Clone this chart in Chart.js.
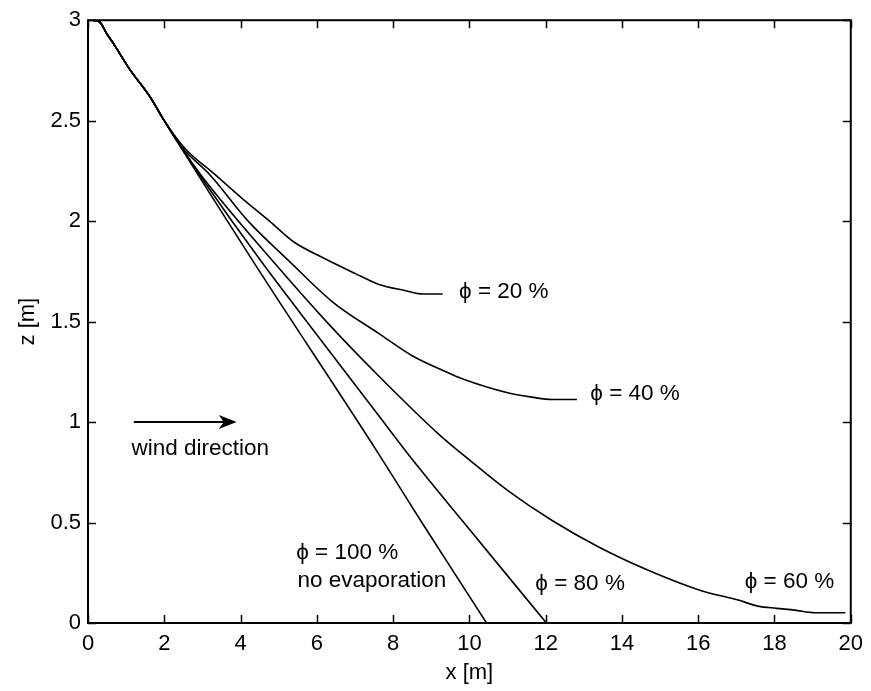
<!DOCTYPE html>
<html>
<head>
<meta charset="utf-8">
<script src="https://cdn.jsdelivr.net/npm/chart.js@4.4.1/dist/chart.umd.min.js"></script>
<style>
  html, body { margin: 0; padding: 0; background: #fff; }
  canvas { display: block; }
</style>
</head>
<body>
<canvas id="myChart" width="871" height="691"></canvas>
<script>
// tick values / labels
var xTicks = [0, 2, 4, 6, 8, 10, 12, 14, 16, 18, 20];
var yTicks = [0, 0.5, 1, 1.5, 2, 2.5, 3];
var yTickLabels = ["0", "0.5", "1", "1.5", "2", "2.5", "3"];

// trajectories, x [m] and z [m], one pair per humidity
var x100 = [0.14, 0.31, 0.5, 0.66, 1.1, 1.62, 2.0, 4.33, 7.6, 8.72, 10.45];
var z100 = [3.0, 2.99, 2.93, 2.886, 2.754, 2.62, 2.5, 1.8, 0.848, 0.51, 0];

var x80 = [0.14, 0.31, 0.5, 0.66, 1.1, 1.62, 2.0, 2.4, 3.0, 4.54, 6.1, 7.63, 8.5, 9.81, 12.02];
var z80 = [3.0, 2.99, 2.93, 2.886, 2.754, 2.62, 2.5, 2.38, 2.21, 1.8, 1.41, 1.03, 0.815, 0.51, 0];

var x60 = [0.14, 0.31, 0.5, 0.66, 1.1, 1.62, 2.0, 2.4, 3.0, 4.85, 6.3, 7.63, 9.2, 10.03, 11.0, 12.17, 13.39, 14.69, 16.04, 17.05, 17.57, 18.05, 18.53, 19.05, 19.86];
var z60 = [3.0, 2.99, 2.93, 2.886, 2.754, 2.62, 2.5, 2.38, 2.22, 1.8, 1.49, 1.228, 0.939, 0.807, 0.66, 0.51, 0.378, 0.262, 0.163, 0.114, 0.084, 0.073, 0.064, 0.051, 0.051];

var x40 = [0.14, 0.31, 0.5, 0.66, 1.1, 1.62, 2.0, 2.45, 3.2, 4.2, 5.28, 6.4, 7.63, 8.5, 9.46, 9.81, 11.03, 11.64, 12.17, 12.82];
var z40 = [3.0, 2.99, 2.93, 2.886, 2.754, 2.62, 2.5, 2.37, 2.23, 2.0, 1.8, 1.6, 1.44, 1.33, 1.244, 1.216, 1.145, 1.124, 1.112, 1.112];

var x20 = [0.14, 0.31, 0.5, 0.66, 1.1, 1.62, 2.0, 2.55, 3.28, 4.0, 4.76, 5.37, 6.24, 7.0, 7.63, 8.3, 8.77, 9.3];
var z20 = [3.0, 2.99, 2.93, 2.886, 2.754, 2.62, 2.5, 2.36, 2.24, 2.12, 2.0, 1.9, 1.81, 1.74, 1.685, 1.655, 1.637, 1.637];

function pts(xs, zs) {
  return xs.map(function (v, i) { return { x: v, y: zs[i] }; });
}

function line(label, xs, zs) {
  return {
    label: label,
    data: pts(xs, zs),
    showLine: true,
    borderColor: "#000",
    borderWidth: 1.6,
    pointRadius: 0,
    cubicInterpolationMode: "monotone",
    fill: false
  };
}

var font = "Liberation Sans, Arial, Helvetica, sans-serif";

// text notes inside the plot (anchor in data units, left/middle)
var notes = [
  { t: "\u03d5 = 20 %", x: 9.73, z: 1.649 },
  { t: "\u03d5 = 40 %", x: 13.17, z: 1.139 },
  { t: "\u03d5 = 60 %", x: 17.22, z: 0.204 },
  { t: "\u03d5 = 80 %", x: 11.73, z: 0.197 },
  { t: "\u03d5 = 100 %", x: 5.46, z: 0.347 },
  { t: "no evaporation", x: 5.49, z: 0.208 },
  { t: "wind direction", x: 1.14, z: 0.865 }
];

var framePlugin = {
  id: "frame",
  afterDraw: function (chart) {
    var c = chart.ctx, a = chart.chartArea;
    var xs = chart.scales.x, ys = chart.scales.y;
    c.save();
    c.strokeStyle = "#000";
    c.fillStyle = "#000";

    // inward ticks on all four sides
    c.lineWidth = 1.5;
    c.beginPath();
    xTicks.forEach(function (v) {
      var px = Math.round(xs.getPixelForValue(v)) + 0.5;
      c.moveTo(px, a.bottom); c.lineTo(px, a.bottom - 8);
      c.moveTo(px, a.top); c.lineTo(px, a.top + 8);
    });
    yTicks.forEach(function (v) {
      var py = Math.round(ys.getPixelForValue(v)) + 0.5;
      c.moveTo(a.left, py); c.lineTo(a.left + 8, py);
      c.moveTo(a.right, py); c.lineTo(a.right - 8, py);
    });
    c.stroke();

    // box
    c.lineWidth = 2;
    c.strokeRect(a.left, a.top, a.right - a.left, a.bottom - a.top);

    // wind arrow
    var ax0 = xs.getPixelForValue(1.2), ax1 = xs.getPixelForValue(3.9);
    var ay = ys.getPixelForValue(1.0);
    c.lineWidth = 2;
    c.beginPath();
    c.moveTo(ax0, ay); c.lineTo(ax1 - 10, ay);
    c.stroke();
    c.beginPath();
    c.moveTo(ax1, ay);
    c.lineTo(ax1 - 18, ay - 7);
    c.lineTo(ax1 - 13, ay);
    c.lineTo(ax1 - 18, ay + 7);
    c.closePath();
    c.fill();

    // notes
    c.font = "22.5px " + font;
    c.textAlign = "left";
    c.textBaseline = "middle";
    notes.forEach(function (n) {
      c.fillText(n.t, xs.getPixelForValue(n.x), ys.getPixelForValue(n.z));
    });
    c.restore();
  }
};

var ctx = document.getElementById("myChart").getContext("2d");

var myChart = new Chart(ctx, {
  type: "scatter",
  plugins: [framePlugin],
  data: {
    datasets: [
      line("100 %", x100, z100),
      line("80 %", x80, z80),
      line("60 %", x60, z60),
      line("40 %", x40, z40),
      line("20 %", x20, z20)
    ]
  },
  options: {
    responsive: false,
    animation: false,
    devicePixelRatio: 1,
    layout: { padding: { left: 0, right: 18, top: 17, bottom: 0 } },
    plugins: {
      legend: { display: false },
      tooltip: { enabled: false }
    },
    scales: {
      x: {
        type: "linear",
        min: 0,
        max: 20,
        afterBuildTicks: function (s) { s.ticks = xTicks.map(function (v) { return { value: v }; }); },
        afterFit: function (s) { s.height = 68; },
        grid: { display: false, drawTicks: false },
        border: { display: false },
        ticks: {
          padding: 8,
          color: "#000",
          font: { family: font, size: 22 },
          maxRotation: 0,
          callback: function (v) { return String(v); }
        },
        title: {
          display: true,
          text: "x [m]",
          color: "#000",
          font: { family: font, size: 22 },
          padding: 5
        }
      },
      y: {
        type: "linear",
        min: 0,
        max: 3,
        afterBuildTicks: function (s) { s.ticks = yTicks.map(function (v) { return { value: v }; }); },
        afterFit: function (s) { s.width = 88; },
        grid: { display: false, drawTicks: false },
        border: { display: false },
        ticks: {
          padding: 7,
          color: "#000",
          font: { family: font, size: 22 },
          callback: function (v) { return yTickLabels[yTicks.indexOf(v)]; }
        },
        title: {
          display: true,
          text: "z [m]",
          color: "#000",
          font: { family: font, size: 22 },
          padding: 15
        }
      }
    }
  }
});
</script>
</body>
</html>
